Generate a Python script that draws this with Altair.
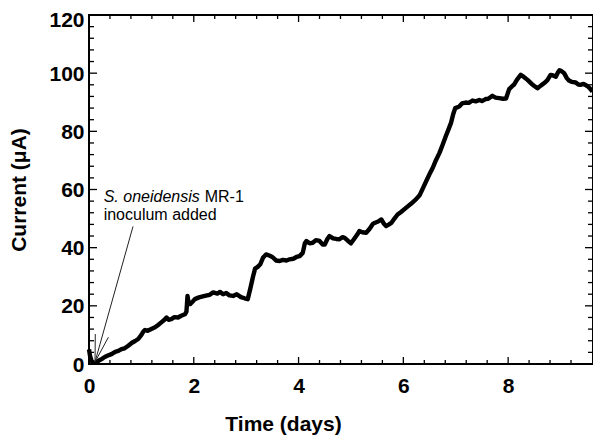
import altair as alt
import pandas as pd

# ---- data ----
days = [0.00, 0.02, 0.05, 0.09, 0.14, 0.19, 0.24, 0.30, 0.36, 0.43, 0.50, 0.56, 0.62, 0.68, 0.75,
        0.82, 0.88, 0.94, 1.00, 1.04, 1.07, 1.12, 1.19, 1.26, 1.32, 1.38, 1.44, 1.48, 1.52, 1.57,
        1.63, 1.70, 1.76, 1.83, 1.86, 1.88, 1.90, 1.93, 1.98, 2.02, 2.10, 2.21, 2.30, 2.37, 2.45,
        2.50, 2.56, 2.62, 2.68, 2.75, 2.82, 2.90, 2.97, 3.03, 3.08, 3.13, 3.17, 3.22, 3.27, 3.32,
        3.38, 3.44, 3.50, 3.57, 3.64, 3.70, 3.77, 3.83, 3.90, 3.96, 4.02, 4.08, 4.12, 4.15, 4.21,
        4.27, 4.33, 4.40, 4.46, 4.50, 4.55, 4.59, 4.66, 4.72, 4.78, 4.84, 4.88, 4.94, 5.00, 5.06,
        5.12, 5.16, 5.22, 5.29, 5.36, 5.42, 5.45, 5.52, 5.58, 5.63, 5.67, 5.72, 5.77, 5.83, 5.89,
        5.95, 6.05, 6.14, 6.24, 6.31, 6.37, 6.44, 6.50, 6.56, 6.62, 6.69, 6.75, 6.81, 6.86, 6.91,
        6.95, 6.99, 7.04, 7.07, 7.12, 7.19, 7.25, 7.32, 7.38, 7.45, 7.50, 7.57, 7.62, 7.70, 7.76,
        7.83, 7.90, 7.96, 8.02, 8.08, 8.11, 8.17, 8.24, 8.30, 8.37, 8.45, 8.50, 8.56, 8.63, 8.69,
        8.75, 8.81, 8.86, 8.91, 8.95, 8.98, 9.02, 9.07, 9.12, 9.16, 9.22, 9.29, 9.34, 9.38, 9.44,
        9.51, 9.56, 9.61]
current = [5.0, 2.8, 1.0, 0.4, 0.5, 1.2, 1.7, 2.4, 2.9, 3.4, 4.2, 4.5, 5.1, 5.4, 6.3,
           7.3, 7.9, 8.6, 10.0, 11.2, 11.7, 11.4, 12.0, 12.6, 13.4, 14.3, 15.2, 16.0, 15.2, 15.4,
           16.1, 16.0, 16.6, 17.1, 18.0, 23.4, 21.0, 20.6, 21.5, 22.3, 22.9, 23.4, 23.8, 24.6, 24.2,
           24.8, 24.0, 24.4, 23.6, 23.4, 24.0, 23.0, 22.6, 22.3, 26.0, 30.0, 32.8, 33.4, 34.3, 36.5,
           37.7, 37.3, 36.8, 35.6, 35.4, 35.8, 35.6, 36.0, 36.2, 36.8, 37.1, 38.2, 41.5, 42.3, 41.5,
           41.7, 42.6, 42.3, 41.1, 41.1, 43.0, 44.0, 43.2, 43.0, 42.9, 43.6, 43.4, 42.4, 41.5, 43.0,
           44.5, 45.7, 45.3, 45.1, 46.6, 48.2, 48.5, 49.0, 49.7, 48.2, 47.4, 47.9, 48.5, 50.0, 51.4,
           52.2, 53.7, 55.0, 56.6, 58.0, 60.3, 63.0, 65.3, 67.4, 70.0, 72.6, 75.4, 78.3, 80.6, 82.9,
           85.8, 88.0, 88.3, 88.6, 89.6, 89.9, 89.8, 90.6, 90.3, 90.8, 90.4, 91.1, 91.2, 92.2, 91.6,
           91.4, 91.2, 91.3, 94.5, 95.6, 96.0, 97.8, 99.4, 98.7, 97.7, 96.3, 95.6, 94.8, 95.8, 96.6,
           97.6, 99.4, 99.2, 98.8, 100.2, 101.0, 100.7, 100.0, 98.3, 97.5, 97.0, 96.8, 96.1, 96.0, 96.3,
           95.6, 94.8, 93.7]

x_major = [0, 2, 4, 6, 8]
x_minor = [0.4, 0.8, 1.2, 1.6, 2.4, 2.8, 3.2, 3.6, 4.4, 4.8, 5.2, 5.6, 6.4, 6.8, 7.2, 7.6,
           8.4, 8.8, 9.2]
y_major = [0, 20, 40, 60, 80, 100, 120]
y_minor = [4, 8, 12, 16, 24, 28, 32, 36, 44, 48, 52, 56, 64, 68, 72, 76, 84, 88, 92, 96,
           104, 108, 112, 116]

note_line1 = "S. oneidensis"
note_line1b = "MR-1"
note_line2 = "inoculum added"
note_x = [0.28]
note_y = [57.3, 51.4]

# arrow: main line and two head strokes (start -> tip)
arrow_x1 = [0.84, 0.12, 0.37]
arrow_y1 = [47.3, 10.3, 9.2]
arrow_x2 = [0.115, 0.115, 0.115]
arrow_y2 = [0.7, 0.7, 0.7]

W, H = 504, 349
FONT = "Liberation Sans"
XT = "Time (days)"
YT = "Current (μA)"

xs = alt.Scale(domain=[0, 9.62], nice=False, zero=False)
ys = alt.Scale(domain=[0, 120], nice=False)

df = pd.DataFrame({"t": days, "I": current})

line = alt.Chart(df).mark_line(color="black", strokeWidth=4.4, strokeJoin="round").encode(
    x=alt.X("t:Q", scale=xs, title=XT,
            axis=alt.Axis(values=x_major, ticks=False, domain=False,
                          grid=False, labelPadding=11, labelFlush=False, labelOverlap=False,
                          titleX=194, titleY=60, titleBaseline="middle",
                          titleAlign="center")),
    y=alt.Y("I:Q", scale=ys, title=YT,
            axis=alt.Axis(values=y_major, ticks=False, domain=False,
                          grid=False, labelPadding=5, labelFlush=False, labelOverlap=False,
                          labelOffset={"condition": {"test": "datum.value >= 120", "value": 5},
                                       "value": 1},
                          titleX=-70, titleY=H / 2, titleBaseline="middle", titleAngle=270,
                          titleAlign="center")),
)

def xticks(vals, length, top):
    d = pd.DataFrame({"v": vals})
    if top:
        yy, yy2 = 0, length
    else:
        yy, yy2 = H, H - length
    return alt.Chart(d).mark_rule(color="black", strokeWidth=1.3).encode(
        x=alt.X("v:Q", scale=xs, title=XT), y=alt.value(yy), y2=alt.value(yy2))

def yticks(vals, length, right):
    d = pd.DataFrame({"v": vals})
    if right:
        xx, xx2 = W, W - length
    else:
        xx, xx2 = 0, length
    return alt.Chart(d).mark_rule(color="black", strokeWidth=1.3).encode(
        y=alt.Y("v:Q", scale=ys, title=YT), x=alt.value(xx), x2=alt.value(xx2))

ticks = [
    xticks(x_major, 7, False), xticks(x_minor, 4, False),
    xticks(x_major, 7, True), xticks(x_minor, 4, True),
    yticks(y_major, 8, False), yticks(y_minor, 5, False),
    yticks(y_major, 8, True), yticks(y_minor, 5, True),
]

arrow_df = pd.DataFrame({"x1": arrow_x1, "y1": arrow_y1, "x2": arrow_x2, "y2": arrow_y2})
arrow = alt.Chart(arrow_df).mark_rule(color="#222222", strokeWidth=1).encode(
    x=alt.X("x1:Q", scale=xs, title=XT), y=alt.Y("y1:Q", scale=ys, title=YT),
    x2="x2:Q", y2="y2:Q")

def note(y, s, **kw):
    return alt.Chart(pd.DataFrame({"x": note_x, "y": [y], "s": [s]})).mark_text(
        align="left", baseline="middle", fontSize=16, font=FONT, color="black", **kw
    ).encode(x=alt.X("x:Q", scale=xs, title=XT), y=alt.Y("y:Q", scale=ys, title=YT), text="s:N")

t1 = note(note_y[0], note_line1, fontStyle="italic")
t1b = note(note_y[0], note_line1b, dx=101)
t2 = note(note_y[1], note_line2)

chart = alt.layer(line, *ticks, arrow, t1, t1b, t2).properties(
    width=W, height=H,
    autosize=alt.AutoSizeParams(type="none"),
    padding={"left": 81, "top": 7, "right": 0, "bottom": 71},
).configure_view(stroke="black", strokeWidth=2).configure_axis(
    labelFont=FONT, labelFontSize=21, labelFontWeight="bold", labelColor="black",
    titleFont=FONT, titleFontSize=21, titleFontWeight="bold", titleColor="black",
)

chart.save("out.html", embed_options={"renderer": "svg", "actions": False})
